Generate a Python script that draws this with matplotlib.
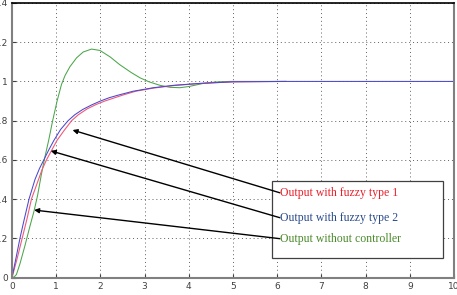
import matplotlib
matplotlib.use('Agg')
import matplotlib.pyplot as plt
from matplotlib.patches import Rectangle

# output without controller (green)
t_green = [0, 0.05, 0.1, 0.18, 0.29, 0.41, 0.5, 0.58, 0.66, 0.73, 0.83, 0.92, 1.02, 1.12,
           1.2, 1.31, 1.46, 1.61, 1.8, 1.99, 2.22, 2.44, 2.7, 2.9, 3.1, 3.35, 3.57, 3.8,
           4.0, 4.33, 4.6, 4.93, 6.2]
y_green = [0, 0.003, 0.015, 0.07, 0.16, 0.265, 0.34, 0.42, 0.52, 0.6, 0.7, 0.8, 0.9, 0.985,
           1.03, 1.075, 1.12, 1.15, 1.165, 1.158, 1.125, 1.085, 1.045, 1.018, 0.998, 0.98, 0.97, 0.968,
           0.974, 0.99, 0.997, 1.0, 1.0]

# fuzzy type 2 (blue)
t_blue = [0, 0.1, 0.18, 0.27, 0.385, 0.52, 0.62, 0.72, 0.83, 0.95, 1.1, 1.27, 1.42, 1.6,
          1.8, 2.0, 2.2, 2.4, 2.74, 3.2, 3.65, 4.25, 5.0, 6.2, 10]
y_blue = [0, 0.11, 0.2, 0.29, 0.4, 0.5, 0.555, 0.6, 0.65, 0.7, 0.755, 0.8, 0.83, 0.857,
          0.88, 0.9, 0.917, 0.93, 0.95, 0.968, 0.98, 0.99, 0.998, 1.0, 1.0]

# fuzzy type 1 (red)
t_red = [0, 0.12, 0.23, 0.34, 0.44, 0.6, 0.68, 0.78, 0.9, 1.02, 1.18, 1.35, 1.5, 1.7,
         1.9, 2.1, 2.5, 2.8, 3.2, 3.7, 4.3, 5.0, 6.2]
y_red = [0, 0.1, 0.2, 0.3, 0.4, 0.5, 0.55, 0.6, 0.65, 0.7, 0.75, 0.8, 0.83, 0.86,
         0.882, 0.9, 0.93, 0.95, 0.966, 0.98, 0.99, 0.998, 1.0]

labels = ['Output with fuzzy type 1', 'Output with fuzzy type 2', 'Output without controller']
label_colors = ['#e8202a', '#2a4a8a', '#4a8a2a']
arrow_tips = [(1.37, 0.752), (0.876, 0.646), (0.50, 0.344)]
arrow_tails = [(6.06, 0.432), (6.06, 0.305), (6.06, 0.198)]

fig = plt.figure(figsize=(4.57, 2.95), dpi=100)
ax = fig.add_axes([12/457, 17.5/295, 442/457, 274.5/295])

ax.plot(t_green, y_green, color='#4aa64a', lw=0.75)
ax.plot(t_red, y_red, color='#f05a7a', lw=0.8)
ax.plot(t_blue, y_blue, color='#4848d0', lw=0.75)

ax.set_xlim(0, 10)
ax.set_ylim(0, 1.4)
ax.set_xticks(range(0, 11))
ax.set_yticks([0, 0.2, 0.4, 0.6, 0.8, 1, 1.2, 1.4])
ax.set_yticklabels(['0', '0.2', '0.4', '0.6', '0.8', '1', '1.2', '1.4'])
ax.tick_params(direction='in', length=3, labelsize=6.5, pad=3, colors='#404040')
ax.grid(True, color='#606060', linestyle=(0, (1, 3)), linewidth=0.7)

for s in ['left', 'bottom', 'right']:
    ax.spines[s].set_color('#808080')
    ax.spines[s].set_linewidth(1.5)
ax.spines['top'].set_color('black')
ax.spines['top'].set_linewidth(1.2)

# label box
ax.add_patch(Rectangle((5.89, 0.101), 3.86, 0.391, facecolor='white',
                       edgecolor='#404040', lw=0.9, zorder=4))
for lab, col, tip, tail in zip(labels, label_colors, arrow_tips, arrow_tails):
    ax.annotate('', xy=tip, xytext=tail,
                arrowprops=dict(arrowstyle='-|>', color='black', lw=1.0,
                                mutation_scale=7, shrinkA=0, shrinkB=0), zorder=5)
    ax.text(tail[0], tail[1], lab, color=col, fontsize=8.5, family='Liberation Serif',
            va='center', ha='left', zorder=6)

fig.savefig('out.png', dpi=100)
